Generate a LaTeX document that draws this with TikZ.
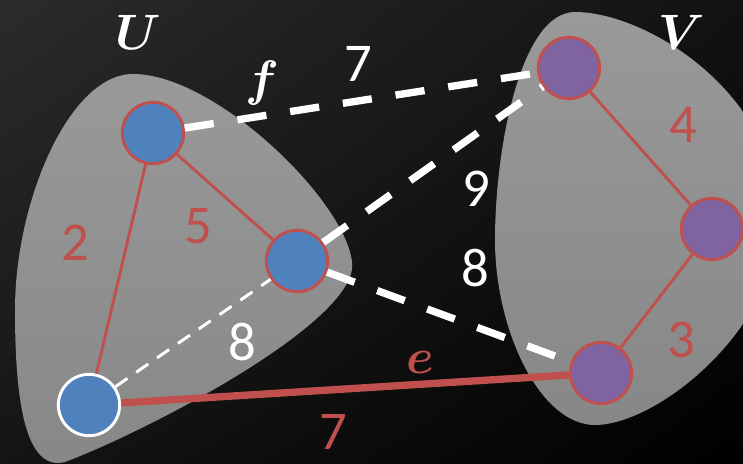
\documentclass[tikz,border=0pt]{standalone}
\usepackage{fontspec}
\usepackage{amsmath}
\usetikzlibrary{shadings}
\setmainfont{Carlito}
\definecolor{cutred}{HTML}{C0504D}
\definecolor{ublue}{HTML}{4F81BD}
\definecolor{vpurple}{HTML}{8064A2}

\begin{document}
\begin{tikzpicture}[x=0.75pt,y=0.75pt,yscale=-1,xscale=1,
  vertex/.style={circle,minimum size=46pt,inner sep=0pt,line width=2.2pt,draw=cutred},
  uvertex/.style={vertex,fill=ublue},
  vvertex/.style={vertex,fill=vpurple},
  inedge/.style={draw=cutred,line width=2.2pt},
  crossedge/.style={draw=white,line width=5.5pt,dash pattern=on 22pt off 18pt},
  weight/.style={inner sep=0pt,font=\fontsize{41}{41}\selectfont},
  setname/.style={inner sep=0pt,text=white,scale=1.5,font=\fontsize{24}{24}\selectfont}]
\useasboundingbox (0,0) rectangle (743,464);
\clip (0,0) rectangle (743,464);

%Background
\shade[upper left=black!83,upper right=black!93,lower left=black!92,lower right=black] (0,0) rectangle (743,464);

%Shape: Blob U
\shade[top color=black!40,bottom color=black!47] (133,74) .. controls (215,74) and (345,200) .. (352,262) .. controls (360,320) and (150,430) .. (65,462) .. controls (25,472) and (15,400) .. (15,310) .. controls (15,200) and (70,74) .. (133,74) -- cycle ;
%Shape: Blob V
\shade[top color=black!40,bottom color=black!47] (575,12) .. controls (640,12) and (760,80) .. (780,200) .. controls (790,320) and (660,425) .. (595,425) .. controls (540,425) and (495,330) .. (495,240) .. controls (495,150) and (520,12) .. (575,12) -- cycle ;

%Vertices
\node[uvertex] (u1) at (153,133) {};
\node[uvertex] (u2) at (297,261) {};
\node[uvertex,draw=white] (u3) at (89,405) {};
\node[vvertex] (v1) at (569,68) {};
\node[vvertex] (v2) at (712,229) {};
\node[vvertex] (v3) at (601,373) {};

%Edges inside the sets
\draw[inedge] (u1) -- (u2) ;
\draw[inedge] (u1) -- (u3) ;
\draw[inedge] (v1) -- (v2) ;
\draw[inedge] (v2) -- (v3) ;
\draw[draw=white,line width=2.2pt,dash pattern=on 11pt off 8pt] (u3) -- (u2) ;

%Edges across the cut
\draw[crossedge] (u1) -- (v1) ;
\draw[crossedge] (u2) -- (v1) ;
\draw[crossedge] (u2) -- (v3) ;
\draw[draw=cutred,line width=5.5pt] (u3) -- (v3) ;

%Weights
\node[weight,text=cutred] (w2) at (75,243) {2};
\node[weight,text=cutred] (w5) at (198,226) {5};
\node[weight,text=white] (w8a) at (242,342) {8};
\node[weight,text=white] (w7a) at (358,64) {7};
\node[weight,text=white] (w9) at (476,189) {9};
\node[weight,text=white] (w8b) at (475,268) {8};
\node[weight,text=cutred] (w7b) at (333,432) {7};
\node[weight,text=cutred] (w4) at (683,125) {4};
\node[weight,text=cutred] (w3) at (681,340) {3};

%Names
\node[setname] (nu) at (138,32) {$\boldsymbol{U}$};
\node[setname] (nv) at (682,32) {$\boldsymbol{V}$};
\node[setname] (nf) at (262,83) {$\boldsymbol{f}$};
\node[setname,text=cutred] (ne) at (420,362) {$\boldsymbol{e}$};

\end{tikzpicture}
\end{document}
